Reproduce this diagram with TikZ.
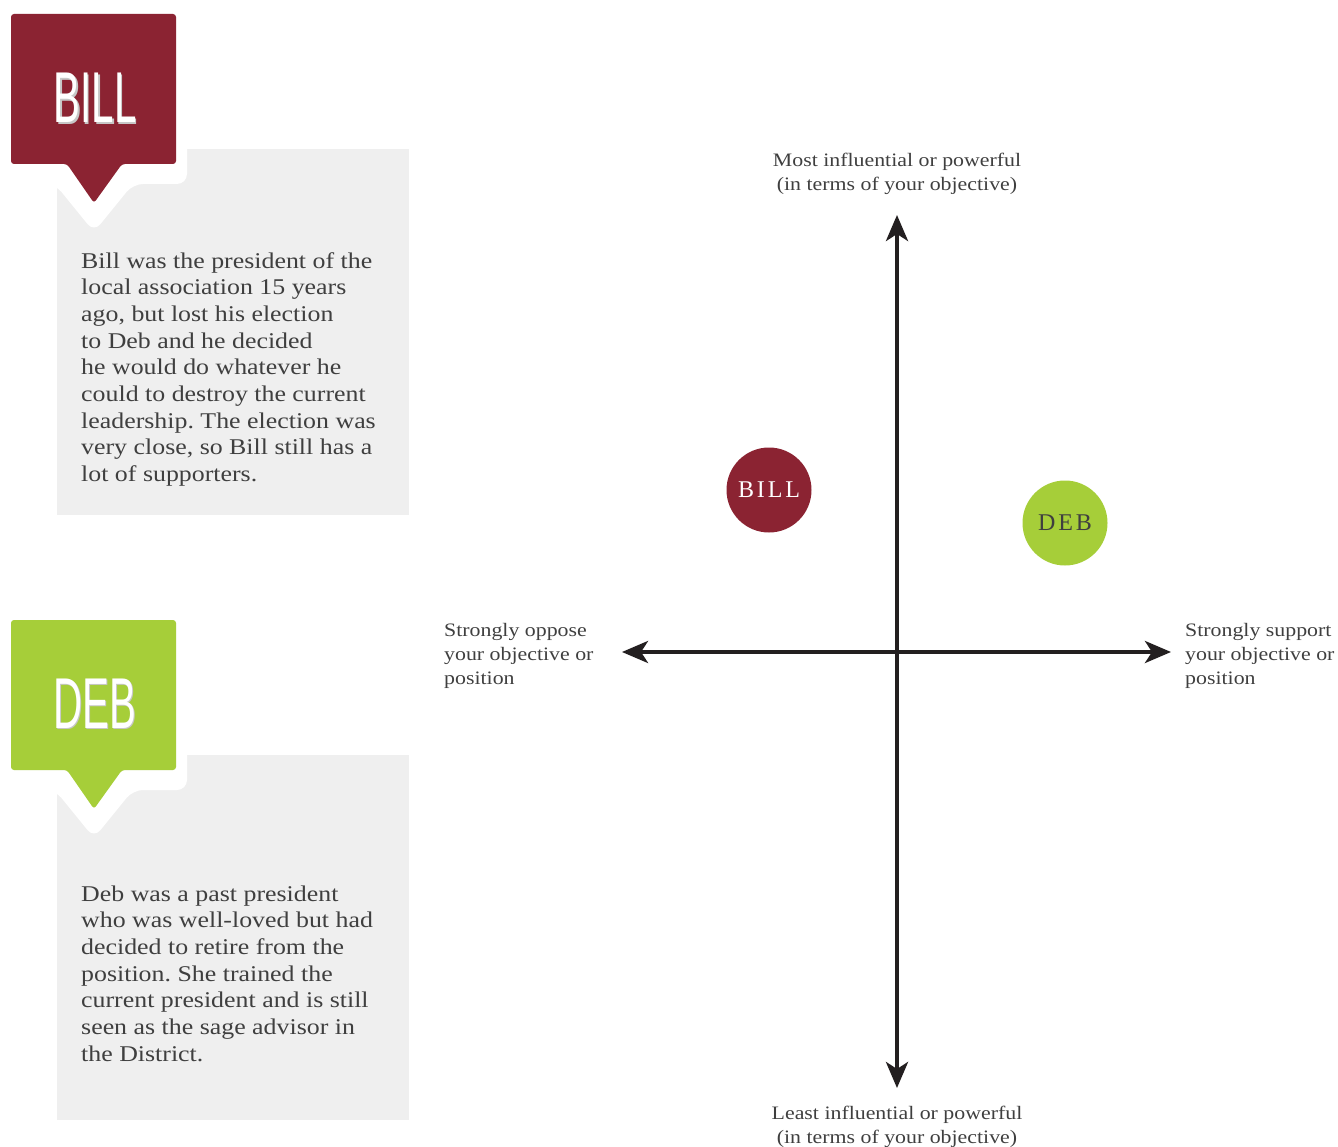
\documentclass[tikz,border=0pt]{standalone}
\usepackage{fontspec}
\setmainfont{Liberation Serif}
\newfontfamily\bodyfont[FakeStretch=1.15]{Liberation Serif}
\newfontfamily\tagfont[FakeStretch=0.56]{Liberation Sans}
\usetikzlibrary{arrows.meta}
\frenchspacing
\definecolor{billred}{HTML}{8B2332}
\definecolor{debgreen}{HTML}{A6CE39}
\definecolor{boxgray}{HTML}{EFEFEF}
\definecolor{txtgray}{HTML}{3F3F3F}
\definecolor{axiscol}{HTML}{231F20}
\tikzset{
  x=1pt, y=-1pt,
  infobox/.style={fill=boxgray, draw=none},
  halo/.style={fill=white, draw=none, rounded corners=10pt},
  tagshape/.style={draw=none, rounded corners=3pt},
  tagtext/.style={font=\tagfont\fontsize{72}{72}\selectfont, text=white, inner sep=0pt},
  tagshadow/.style={font=\tagfont\fontsize{72}{72}\selectfont, text=black!22, inner sep=0pt},
  bodytext/.style={font=\bodyfont\frenchspacing\fontsize{22.5}{26.7}\selectfont, text=txtgray, align=left, inner sep=0pt, anchor=base west},
  axislabel/.style={font=\bodyfont\fontsize{19}{24}\selectfont, text=txtgray, inner sep=0pt},
  axisline/.style={line width=4pt, draw=axiscol, {Stealth[length=26pt,width=22pt,inset=7pt]}-{Stealth[length=26pt,width=22pt,inset=7pt]}},
  person/.style={circle, minimum size=85pt, inner sep=0pt, font=\fontsize{24}{24}\selectfont\addfontfeature{LetterSpace=12}},
}
\begin{document}
\begin{tikzpicture}
\useasboundingbox (0,0) rectangle (1338,1147);
% ---------- BILL card ----------
\fill[infobox] (57,149) rectangle (409,515);
\fill[halo] (0,0) -- (187,0) -- (187,184) -- (133,184) -- (94,232) -- (55,184) -- (0,184) -- cycle;
\fill[tagshape, billred] (11,14) -- (176,14) -- (176,164) -- (122,164) -- (94,203) -- (67,164) -- (11,164) -- cycle;
\node[tagshadow, anchor=base] (billtagsh) at (96.5,124.5) {BILL};
\node[tagtext, anchor=base] (billtag) at (95,123) {BILL};
% base anchor = baseline of the last line
\node[bodytext] (billtext) at (81,481.6) {Bill was the president of the\\local association 15 years\\ago, but lost his election\\to Deb and he decided\\he would do whatever he\\could to destroy the current\\leadership. The election was\\very close, so Bill still has a\\lot of supporters.};
% ---------- DEB card ----------
\fill[infobox] (57,755) rectangle (409,1120);
\fill[halo] (0,606) -- (187,606) -- (187,790) -- (133,790) -- (94,838) -- (55,790) -- (0,790) -- cycle;
\fill[tagshape, debgreen] (11,620) -- (176,620) -- (176,770) -- (122,770) -- (94,809) -- (67,770) -- (11,770) -- cycle;
\node[tagshadow, anchor=base] (debtagsh) at (96,729.5) {DEB};
\node[tagtext, anchor=base] (debtag) at (94.5,728) {DEB};
\node[bodytext] (debtext) at (81,1061.2) {Deb was a past president\\who was well-loved but had\\decided to retire from the\\position. She trained the\\current president and is still\\seen as the sage advisor in\\the District.};
% ---------- axes ----------
\coordinate (ytop) at (897,215);
\coordinate (ybot) at (897,1088);
\coordinate (xleft) at (622,652);
\coordinate (xright) at (1171,652);
\draw[axisline] (ybot) -- (ytop);
\draw[axisline] (xleft) -- (xright);
\node[axislabel, anchor=base, align=center] (toplab) at (897,191) {Most influential or powerful\\(in terms of your objective)};
\node[axislabel, anchor=base, align=center] (botlab) at (897,1143) {Least influential or powerful\\(in terms of your objective)};
\node[axislabel, anchor=base west, align=left] (leftlab) at (444,684) {Strongly oppose\\your objective or\\position};
\node[axislabel, anchor=base west, align=left] (rightlab) at (1185,684) {Strongly support\\your objective or\\position};
% ---------- people ----------
\node[person, fill=billred, text=white] (billdot) at (769,490) {BILL};
\node[person, fill=debgreen, text=txtgray] (debdot) at (1065,523) {DEB};
\end{tikzpicture}
\end{document}
